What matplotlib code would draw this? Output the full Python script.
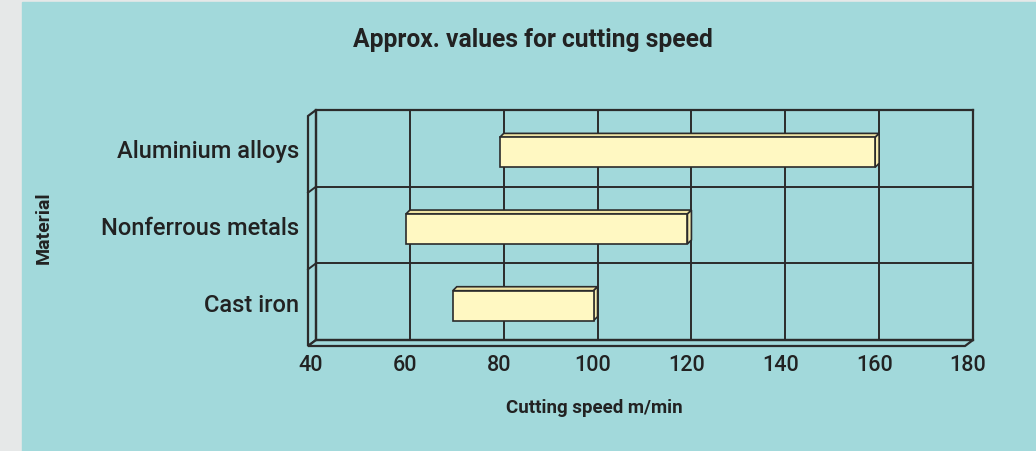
import matplotlib.pyplot as plt
import matplotlib.patches as mpatches
from matplotlib.transforms import ScaledTranslation

# data
materials = ["Cast iron", "Nonferrous metals", "Aluminium alloys"]
speed_min = [70, 60, 80]
speed_max = [100, 120, 160]
xticks = [40, 60, 80, 100, 120, 140, 160, 180]

bg = "#a2d9db"
edge = "#2b2b2b"
face = "#fff8c2"
face_top = "#efe3a4"
face_side = "#f6ecb0"
txt = "#222222"

plt.rcParams["font.family"] = ["Roboto", "DejaVu Sans"]

W, H = 1036, 452
fig = plt.figure(figsize=(W / 100, H / 100), dpi=100)
fig.patch.set_facecolor("#e6e8e8")
fig.add_artist(mpatches.Rectangle((22 / W, 0), 1 - 22 / W, 1 - 3 / H,
                                  transform=fig.transFigure, color=bg, zorder=0))

# back wall of the chart in pixels
x0, x1, y0, y1 = 316, 973, 111, 341
ax = fig.add_axes([x0 / W, 1 - y1 / H, (x1 - x0) / W, (y1 - y0) / H])
ax.set_facecolor(bg)
ax.set_xlim(40, 180)
ax.set_ylim(-0.5, 2.5)

for s in ax.spines.values():
    s.set_color(edge)
    s.set_linewidth(1.6)

for x in xticks[1:-1]:
    ax.axvline(x, color=edge, lw=1.4, zorder=1)
for yb in [0.5, 1.5]:
    ax.axhline(yb, color=edge, lw=1.4, zorder=1)

# depth of the walls (pixels -> axes fraction)
wdx, wdy = -8 / (x1 - x0), -6 / (y1 - y0)
wall = mpatches.Polygon([(0, 0), (0, 1), (wdx, 1 + wdy), (wdx, wdy)], closed=True,
                        transform=ax.transAxes, clip_on=False, fc=bg, ec=edge, lw=1.6)
floor = mpatches.Polygon([(0, 0), (1, 0), (1 + wdx, wdy), (wdx, wdy)], closed=True,
                         transform=ax.transAxes, clip_on=False, fc=bg, ec=edge, lw=1.6)
ax.add_patch(wall)
ax.add_patch(floor)
for yf in [1 / 3, 2 / 3]:
    ax.plot([0, wdx], [yf, yf + wdy], transform=ax.transAxes, clip_on=False,
            color=edge, lw=1.4)

# bar depth in data units
bdx = -4 * 140 / (x1 - x0)
bdy = -4 * 3 / (y1 - y0)
bh = 0.39
ypos = list(range(len(materials)))
for yc, lo, hi in zip(ypos, speed_min, speed_max):
    top = yc + bh / 2
    bot = yc - bh / 2
    ax.add_patch(mpatches.Polygon([(lo, top), (hi, top), (hi + bdx, top + bdy), (lo + bdx, top + bdy)],
                                  closed=True, fc=face_top, ec=edge, lw=1.2, zorder=3))
    ax.add_patch(mpatches.Polygon([(hi, top), (hi, bot), (hi + bdx, bot + bdy), (hi + bdx, top + bdy)],
                                  closed=True, fc=face_side, ec=edge, lw=1.2, zorder=3))
ax.barh([y + bdy for y in ypos], [hi - lo for lo, hi in zip(speed_min, speed_max)],
        left=[lo + bdx for lo in speed_min], height=bh, color=face, edgecolor=edge,
        linewidth=1.2, zorder=4)

ax.set_xticks(xticks)
ax.set_xticklabels([str(v) for v in xticks], fontsize=15.5, color=txt, fontweight="medium")
ax.set_yticks(ypos)
ax.set_yticklabels(materials, fontsize=17, color=txt, fontweight="medium")
ax.tick_params(length=0)
ax.tick_params(axis="x", pad=10)
ax.tick_params(axis="y", pad=12)
for lbl in ax.get_xticklabels():
    lbl.set_transform(lbl.get_transform() + ScaledTranslation(-5 / 100, 0, fig.dpi_scale_trans))

fig.text(533 / W, 1 - 40 / H, "Approx. values for cutting speed", ha="center", va="center",
         fontsize=17.7, fontweight="bold", color=txt)
fig.text(594 / W, 1 - 408 / H, "Cutting speed m/min", ha="center", va="center",
         fontsize=13.5, fontweight="bold", color=txt)
fig.text(44 / W, 1 - 228 / H, "Material", ha="center", va="center", rotation=90,
         fontsize=14, fontweight="bold", color=txt)

fig.savefig("out.png", dpi=100, facecolor=fig.get_facecolor())
